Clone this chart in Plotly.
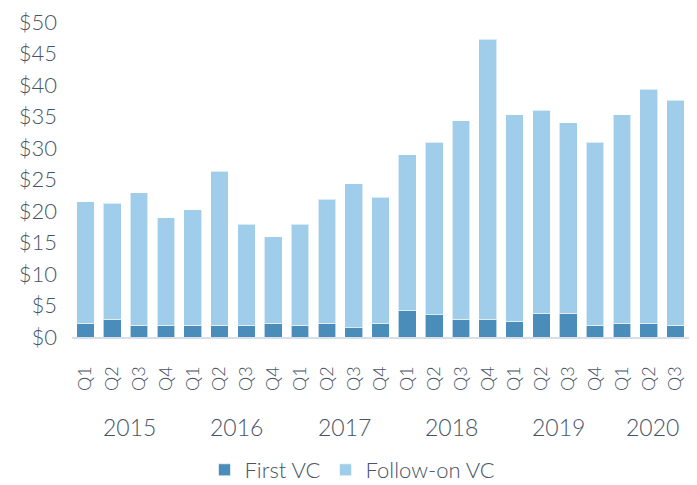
import plotly.graph_objects as go

years = ["2015", "2016", "2017", "2018", "2019", "2020"]
quarters = ["Q1", "Q2", "Q3", "Q4"] * 5 + ["Q1", "Q2", "Q3"]
periods = [f"{2015 + i // 4} {q}" for i, q in enumerate(quarters)]

first_vc = [2.2, 2.8, 1.9, 1.9, 1.9, 1.9, 1.9, 2.2, 1.9, 2.2, 1.5, 2.2,
            4.2, 3.5, 2.8, 2.8, 2.5, 3.8, 3.8, 1.9, 2.2, 2.2, 1.9]
total_vc = [21.5, 21.2, 22.9, 18.9, 20.2, 26.3, 17.9, 15.9, 17.9, 21.9, 24.3, 22.2,
            28.9, 30.9, 34.3, 47.3, 35.3, 36.0, 34.0, 30.9, 35.3, 39.3, 37.6]
follow_on_vc = [round(t - f, 2) for t, f in zip(total_vc, first_vc)]

y_ticks = list(range(0, 55, 5))
y_tick_text = [f"${v}" for v in y_ticks]

TEXT = "#475466"
FONT = "Lato"

fig = go.Figure()
fig.add_trace(go.Bar(x=periods, y=first_vc, name="First VC",
                     marker=dict(color="#4A8DBA", line=dict(color="rgba(255,255,255,0.6)", width=1))))
fig.add_trace(go.Bar(x=periods, y=follow_on_vc, name="Follow-on VC",
                     marker=dict(color="#A0CDE9", line=dict(color="rgba(255,255,255,0.6)", width=1))))

# year labels centred under their quarters
for i, yr in enumerate(years):
    idx = [k for k, p in enumerate(periods) if p.startswith(yr)]
    center = (idx[0] + idx[-1]) / 2
    fig.add_annotation(x=center, xref="x", y=0, yref="paper", yshift=-90, xshift=4,
                       text=yr, showarrow=False, yanchor="middle", xanchor="center",
                       font=dict(family=FONT, size=23, color=TEXT, weight=300))

fig.update_layout(
    barmode="stack",
    bargap=0.34,
    width=689, height=477,
    margin=dict(l=64, r=8, t=14, b=148, autoexpand=False),
    paper_bgcolor="white", plot_bgcolor="white",
    font=dict(family=FONT, color=TEXT, weight=300),
    showlegend=True,
    legend=dict(orientation="h", x=0.5, xref="container", xanchor="center",
                y=15 / 477, yref="container", yanchor="middle",
                font=dict(family=FONT, size=22, color=TEXT, weight=300),
                traceorder="normal", itemwidth=30),
    xaxis=dict(tickvals=periods, ticktext=quarters, tickangle=-90,
               tickfont=dict(family=FONT, size=18, color=TEXT, weight=300),
               showline=True, linecolor="#D9DFE8", linewidth=2,
               showgrid=False, ticks="", ticklabelstandoff=20, automargin=False),
    yaxis=dict(range=[0, 50], tickvals=y_ticks, ticktext=y_tick_text,
               tickfont=dict(family=FONT, size=22, color=TEXT, weight=300),
               showgrid=False, zeroline=False, showline=False, ticks="",
               ticklabelstandoff=14, automargin=False, ticklabeloverflow="allow"),
)

fig.write_html("out.html")
